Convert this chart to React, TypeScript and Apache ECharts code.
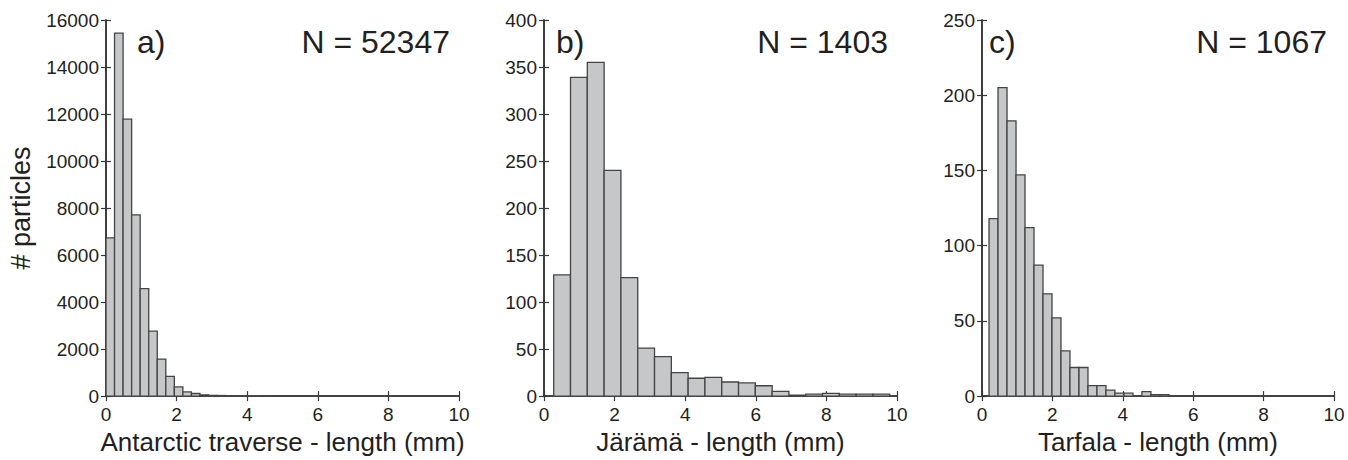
import React, { useEffect, useRef } from "react";
import * as echarts from "echarts";

const FONT = "'Liberation Sans', Arial, Helvetica, sans-serif";

// Panel a: Antarctic traverse
const startA = 0;
const widthA = 0.242;
const countsA = [6730, 15440, 11780, 7710, 4570, 2760, 1575, 836, 390, 180, 110, 56, 30, 25, 20, 15, 12, 10, 8, 6];
// Panel b: Järämä
const startB = 0.275;
const widthB = 0.476;
const countsB = [129, 339, 355, 240, 126, 51, 42, 25, 19, 20, 15, 14, 11, 5, 1, 2, 3, 2, 2, 2];
// Panel c: Tarfala
const startC = 0.2;
const widthC = 0.2555;
const countsC = [118, 205, 183, 147, 112, 87, 68, 52, 30, 19, 19, 7, 7, 4, 2, 2, 0, 3, 1, 1];

const panelLabels = ["a)", "b)", "c)"];
const nLabels = ["N = 52347", "N = 1403", "N = 1067"];
const xTitles = ["Antarctic traverse - length (mm)", "Järämä - length (mm)", "Tarfala - length (mm)"];
const yTitle = "# particles";
const yMax = [16000, 400, 250];
const yStep = [2000, 50, 50];
const xMin = 0;
const xMax = 10;
const xStep = 2;

const grids = [
  { left: 106, top: 20, width: 353, height: 383 },
  { left: 544, top: 20, width: 353, height: 383 },
  { left: 982, top: 20, width: 352, height: 383 },
];
const labelLeft = [137, 556, 989];
const nRight = [450, 888, 1327];

const AXIS = "#383838";
const TEXT = "#231f20";

function bins(start: number, w: number, counts: number[]) {
  return counts.map((c, i) => [start + i * w, start + (i + 1) * w, c]);
}

export default function App() {
  const ref = useRef<HTMLDivElement>(null);
  useEffect(() => {
    if (!ref.current) return;
    const chart = echarts.init(ref.current, null, { renderer: "svg" });
    const data = [bins(startA, widthA, countsA), bins(startB, widthB, countsB), bins(startC, widthC, countsC)];
    const xAxis: any[] = [];
    const yAxis: any[] = [];
    const series: any[] = [];
    const graphic: any[] = [];
    const plain = (v: number) => String(v);
    grids.forEach((g, i) => {
      xAxis.push({
        type: "value", gridIndex: i, min: xMin, max: xMax, interval: xStep, position: "bottom",
        axisLine: { show: true, lineStyle: { color: AXIS, width: 1.6 } },
        axisTick: { show: true, inside: true, length: 5, lineStyle: { color: AXIS, width: 1.2 } },
        axisLabel: { color: TEXT, fontSize: 19, fontFamily: FONT, margin: 9, formatter: plain },
        splitLine: { show: false },
        name: xTitles[i], nameLocation: "middle", nameGap: 32,
        nameTextStyle: { color: TEXT, fontSize: 26, fontFamily: FONT },
      });
      xAxis.push({
        type: "value", gridIndex: i, min: xMin, max: xMax, interval: xStep, position: "top",
        axisLine: { show: true, lineStyle: { color: AXIS, width: 1.6 } },
        axisTick: { show: true, inside: true, length: 5, lineStyle: { color: AXIS, width: 1.2 } },
        axisLabel: { show: false }, splitLine: { show: false },
      });
      yAxis.push({
        type: "value", gridIndex: i, min: 0, max: yMax[i], interval: yStep[i], position: "left",
        axisLine: { show: true, lineStyle: { color: AXIS, width: 1.6 } },
        axisTick: { show: true, inside: true, length: 5, lineStyle: { color: AXIS, width: 1.2 } },
        axisLabel: { color: TEXT, fontSize: 19, fontFamily: FONT, margin: 7, formatter: plain },
        splitLine: { show: false },
        name: i === 0 ? yTitle : "", nameLocation: "middle", nameGap: 72,
        nameTextStyle: { color: TEXT, fontSize: 27, fontFamily: FONT },
      });
      yAxis.push({
        type: "value", gridIndex: i, min: 0, max: yMax[i], interval: yStep[i], position: "right",
        axisLine: { show: true, lineStyle: { color: AXIS, width: 1.6 } },
        axisTick: { show: true, inside: true, length: 5, lineStyle: { color: AXIS, width: 1.2 } },
        axisLabel: { show: false }, splitLine: { show: false },
      });
      series.push({
        type: "custom", xAxisIndex: 2 * i, yAxisIndex: 2 * i, data: data[i], clip: true,
        encode: { x: [0, 1], y: 2 },
        renderItem: (params: any, api: any) => {
          const x0 = api.value(0), x1 = api.value(1), v = api.value(2);
          if (!v) return null;
          const p0 = api.coord([x0, v]);
          const p1 = api.coord([x1, 0]);
          return {
            type: "rect",
            shape: { x: p0[0], y: p0[1], width: p1[0] - p0[0], height: p1[1] - p0[1] },
            style: { fill: "#c6c7c9", stroke: "#444444", lineWidth: 1.3 },
          };
        },
      });
      graphic.push({
        type: "text", left: labelLeft[i], top: 26,
        style: { text: panelLabels[i], fontSize: 32, fontFamily: FONT, fill: TEXT },
      });
      graphic.push({
        type: "text", right: 1348 - nRight[i], top: 26,
        style: { text: nLabels[i], fontSize: 32, fontFamily: FONT, fill: TEXT },
      });
    });
    chart.setOption({
      animation: false,
      backgroundColor: "#ffffff",
      grid: grids.map((g) => ({ ...g, containLabel: false })),
      xAxis, yAxis, series, graphic,
    });
    return () => chart.dispose();
  }, []);
  return <div ref={ref} style={{ position: "absolute", left: 0, top: 0, width: 1348, height: 460 }} />;
}
